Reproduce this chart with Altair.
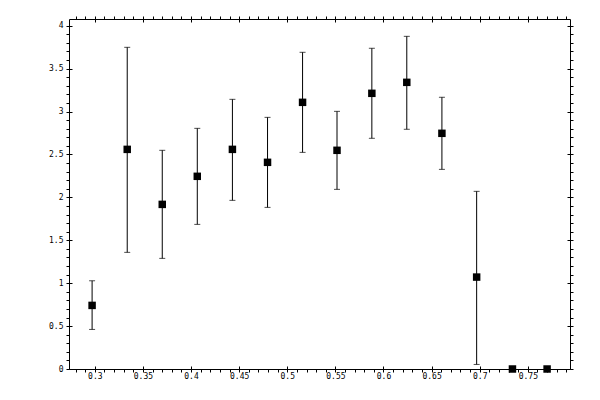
import altair as alt
import pandas as pd

xs = [0.2972, 0.3337, 0.3701, 0.4065, 0.4430, 0.4795, 0.5159, 0.5517, 0.5879, 0.6242, 0.6607, 0.6968, 0.7340, 0.7700]
ys = [0.741, 2.559, 1.918, 2.245, 2.559, 2.408, 3.107, 2.548, 3.212, 3.340, 2.746, 1.071, 0.0, 0.0]
lo = [0.461, 1.359, 1.289, 1.685, 1.965, 1.883, 2.524, 2.093, 2.688, 2.793, 2.326, 0.053, 0.0, 0.0]
hi = [1.028, 3.748, 2.548, 2.804, 3.142, 2.932, 3.690, 3.002, 3.737, 3.876, 3.166, 2.070, 0.0, 0.0]

x_minor = [round(0.28 + 0.01 * i, 2) for i in range(52)]
x_major = [0.3, 0.35, 0.4, 0.45, 0.5, 0.55, 0.6, 0.65, 0.7, 0.75]
y_minor = [round(0.1 * i, 1) for i in range(41)]
y_major = [0, 0.5, 1, 1.5, 2, 2.5, 3, 3.5, 4]

df = pd.DataFrame({"x": xs, "y": ys, "lo": lo, "hi": hi})

FONT = "DejaVu Sans Mono"
xscale = alt.Scale(domain=[0.2732, 0.7938], nice=False, zero=False)
yscale = alt.Scale(domain=[0, 4.078], nice=False, zero=False)

common = dict(grid=False, domainColor="black", tickColor="black", domainWidth=1,
              tickWidth=1, title=None, labelFont=FONT, labelFontSize=8,
              labelColor="black", labelOverlap=False)

xlab = "(round(datum.value*100) % 5 == 0) ? datum.label : ''"
ylab = "(round(datum.value*10) % 5 == 0) ? datum.label : ''"

base = alt.Chart(df)

# points with bottom/left labelled axes
points = base.mark_square(size=56, color="black", opacity=1).encode(
    x=alt.X("x:Q", scale=xscale, axis=alt.Axis(orient="bottom", values=x_minor, tickSize=3,
            labelPadding=0, labelExpr=xlab, format="~g", **common)),
    y=alt.Y("y:Q", scale=yscale, axis=alt.Axis(orient="left", values=y_minor, tickSize=3,
            labelPadding=3, labelExpr=ylab, format="~g", **common)),
)

# error bars with top/right mirrored axes
bars = base.mark_rule(color="black", strokeWidth=1).encode(
    x=alt.X("x:Q", scale=xscale, axis=alt.Axis(orient="top", values=x_minor, tickSize=3,
            labels=False, **common)),
    y=alt.Y("lo:Q", scale=yscale, axis=alt.Axis(orient="right", values=y_minor, tickSize=3,
            labels=False, **common)),
    y2="hi:Q",
)

caps_lo = base.mark_tick(color="black", size=6, thickness=1, orient="horizontal").encode(
    x=alt.X("x:Q", scale=xscale, axis=alt.Axis(orient="bottom", values=x_major, tickSize=3,
            offset=-3, labels=False, domain=False, **common)),
    y=alt.Y("lo:Q", scale=yscale, axis=alt.Axis(orient="left", values=y_major, tickSize=3,
            offset=-3, labels=False, domain=False, **common)),
)

caps_hi = base.mark_tick(color="black", size=6, thickness=1, orient="horizontal").encode(
    x=alt.X("x:Q", scale=xscale, axis=alt.Axis(orient="top", values=x_major, tickSize=3,
            offset=-3, labels=False, domain=False, **common)),
    y=alt.Y("hi:Q", scale=yscale, axis=alt.Axis(orient="right", values=y_major, tickSize=3,
            offset=-3, labels=False, domain=False, **common)),
)

chart = alt.layer(bars, caps_lo, caps_hi, points).resolve_axis(
    x="independent", y="independent"
).properties(
    width=501, height=350,
    autosize=alt.AutoSizeParams(type="none"),
    padding={"left": 61, "top": 11, "right": 20, "bottom": 20},
    background="white",
).configure_view(stroke=None)

chart.save("out.html", embed_options={"renderer": "svg", "actions": False})
